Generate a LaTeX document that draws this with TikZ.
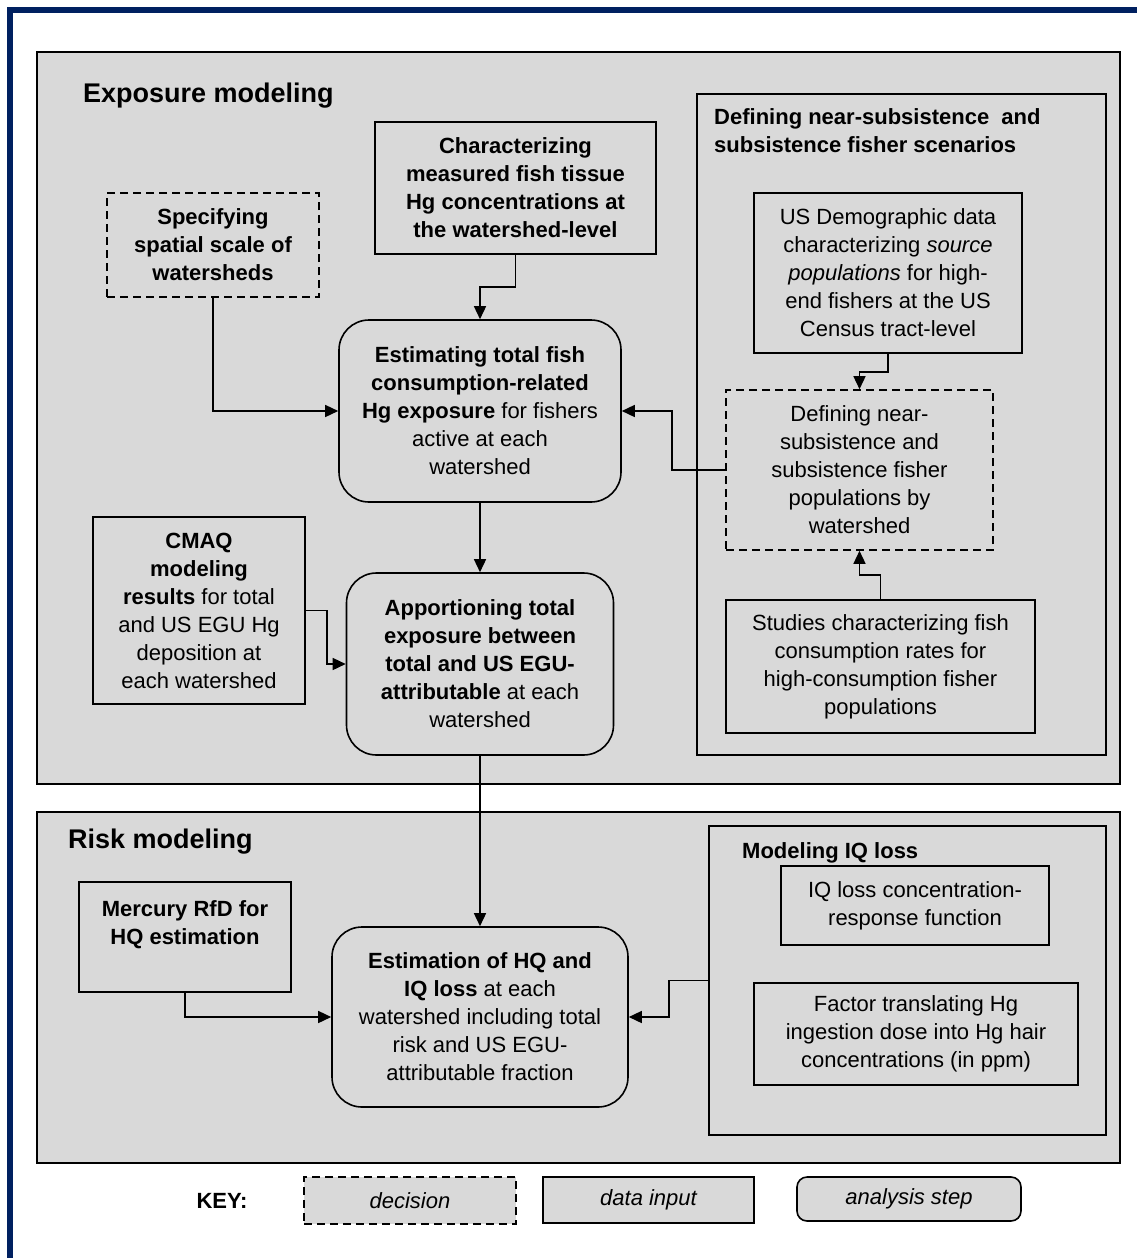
\documentclass[tikz,border=0pt]{standalone}
\usepackage{fontspec}
\setmainfont{Liberation Sans}
\usetikzlibrary{arrows.meta,fit}

\definecolor{framenavy}{RGB}{0,32,96}
\definecolor{boxgray}{RGB}{217,217,217}

\begin{document}
\begin{tikzpicture}[x=1pt,y=-1pt,line join=miter,
    font=\fontsize{22}{28}\selectfont,
    panel/.style={draw,line width=1.6pt,fill=boxgray,inner sep=0pt},
    datainput/.style={draw,line width=1.6pt,fill=boxgray,align=center,inner sep=0pt},
    decision/.style={datainput,dash pattern=on 8pt off 5pt},
    analysis/.style={datainput,rounded corners=30pt},
    flow/.style={line width=1.5pt,-{Triangle[length=13pt,width=12pt]}}]
        \useasboundingbox (0,0) rectangle (1137,1258);

        % Marco exterior
        \draw[framenavy,line width=5.5pt] (9.8,1258) -- (9.8,9.8) -- (1137,9.8);

        % Paneles
        \node[panel,fit={(37,52) (1120,784)}] (expo) {};
        \node[panel,fit={(37,812) (1120,1163)}] (risk) {};
        \node[panel,fit={(697,94) (1106,755)}] (scen) {};
        \node[panel,fit={(709,826) (1106,1135)}] (iqpan) {};

        \node[font=\fontsize{27}{32}\selectfont\bfseries,anchor=base west,inner sep=0pt]
            (expotitle) at (83,102) {Exposure modeling};
        \node[font=\fontsize{27}{32}\selectfont\bfseries,anchor=base west,inner sep=0pt]
            (risktitle) at (68,848) {Risk modeling};
        \node[font=\fontsize{22}{28}\selectfont\bfseries,anchor=north west,align=left,inner sep=0pt]
            (scentitle) at (714,108) {Defining near-subsistence\ \ and\\subsistence fisher scenarios};
        \node[font=\fontsize{22}{28}\selectfont\bfseries,anchor=base west,inner sep=0pt]
            (iqtitle) at (742,858) {Modeling IQ loss};

        % Exposicion
        \node[datainput,minimum width=281pt,minimum height=132pt,font=\fontsize{22}{28}\selectfont\bfseries]
            (meas) at (515.5,188) {Characterizing\\measured fish tissue\\Hg concentrations at\\the watershed-level};
        \node[decision,minimum width=212pt,minimum height=104pt,font=\fontsize{22}{28}\selectfont\bfseries]
            (scale) at (213,245) {Specifying\\spatial scale of\\watersheds};
        \node[datainput,minimum width=268pt,minimum height=160pt]
            (demog) at (888,273) {US Demographic data\\characterizing \textit{source}\\\textit{populations} for high-\\end fishers at the US\\Census tract-level};
        \node[analysis,minimum width=282pt,minimum height=182pt]
            (estim) at (480,411) {\textbf{Estimating total fish}\\\textbf{consumption-related}\\\textbf{Hg exposure} for fishers\\active at each\\watershed};
        \node[decision,minimum width=267pt,minimum height=160pt]
            (popdef) at (859.5,470) {Defining near-\\subsistence and\\subsistence fisher\\populations by\\watershed};
        \node[datainput,minimum width=309pt,minimum height=133pt]
            (studies) at (880.5,666.5) {Studies characterizing fish\\consumption rates for\\high-consumption fisher\\populations};
        \node[datainput,minimum width=212pt,minimum height=187pt]
            (cmaq) at (199,610.5) {\textbf{CMAQ}\\\textbf{modeling}\\\textbf{results} for total\\and US EGU Hg\\deposition at\\each watershed};
        \node[analysis,minimum width=267pt,minimum height=182pt]
            (appor) at (480,664) {\textbf{Apportioning total}\\\textbf{exposure between}\\\textbf{total and US EGU-}\\\textbf{attributable} at each\\watershed};

        % Riesgo
        \node[datainput,minimum width=212pt,minimum height=110pt,font=\fontsize{22}{28}\selectfont\bfseries]
            (rfd) at (185,937) {Mercury RfD for\\HQ estimation\\~};
        \node[analysis,minimum width=296pt,minimum height=180pt]
            (hqiq) at (480,1017) {\textbf{Estimation of HQ and}\\\textbf{IQ loss} at each\\watershed including total\\risk and US EGU-\\attributable fraction};
        \node[datainput,minimum width=268pt,minimum height=79pt]
            (crf) at (915,905.5) {IQ loss concentration-\\response function};
        \node[datainput,minimum width=324pt,minimum height=102pt]
            (hair) at (916,1034) {Factor translating Hg\\ingestion dose into Hg hair\\concentrations (in ppm)};

        % Flechas
        \draw[flow] (meas.south) -- ++(0,32) -| (estim.north);
        \draw[flow] (scale.south) |- (estim.west);
        \draw[flow] (demog.south) -- ++(0,18) -| (popdef.north);
        \draw[flow] (popdef.west) -- ++(-53,0) |- (estim.east);
        \draw[flow] (studies.north) -- ++(0,-24) -| (popdef.south);
        \draw[flow] (estim.south) -- (appor.north);
        \draw[flow] (cmaq.east) -- ++(21,0) |- (appor.west);
        \draw[flow] (appor.south) -- (hqiq.north);
        \draw[flow] (rfd.south) |- (hqiq.west);
        \draw[flow] (iqpan.west) -- ++(-39,0) |- (hqiq.east);

        % Leyenda
        \node[font=\fontsize{22}{28}\selectfont\bfseries] (keylabel) at (222,1201) {KEY:};
        \node[decision,minimum width=212pt,minimum height=47pt,font=\fontsize{22}{28}\selectfont\itshape]
            (keydec) at (410,1200.5) {decision};
        \node[datainput,minimum width=211pt,minimum height=46pt,font=\fontsize{22}{28}\selectfont\itshape]
            (keydat) at (648.5,1200) {data input};
        \node[analysis,rounded corners=10pt,minimum width=224pt,minimum height=44pt,font=\fontsize{22}{28}\selectfont\itshape]
            (keyana) at (909,1199) {analysis step};

    \end{tikzpicture}
\end{document}
